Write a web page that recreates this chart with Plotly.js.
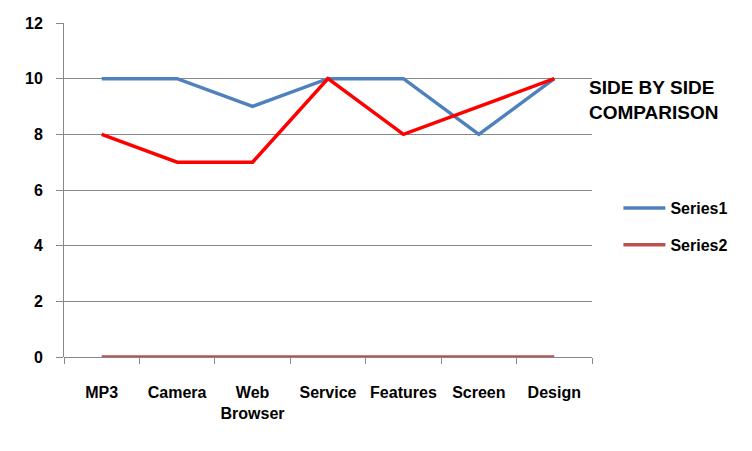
<!DOCTYPE html>
<html>
<head>
<meta charset="utf-8">
<script src="https://cdn.plot.ly/plotly-3.0.1.min.js"></script>
<style>
  html, body { margin: 0; padding: 0; background: #fff; }
  #chart { width: 752px; height: 451px; }
</style>
</head>
<body>
<div id="chart"></div>
<script>
// categories and values
const categories = ['MP3', 'Camera', 'Web<br>Browser', 'Service', 'Features', 'Screen', 'Design'];
const series1 = [10, 10, 9, 10, 10, 8, 10];
const series2 = [0, 0, 0, 0, 0, 0, 0];
const comparison = [8, 7, 7, 10, 8, 9, 10];
const yTicks = [0, 2, 4, 6, 8, 10, 12];

const fontFamily = 'Liberation Sans, Arial, sans-serif';

const traces = [
    {
        x: categories, y: series1,
        type: 'scatter', mode: 'lines',
        line: { color: '#4f81bd', width: 3.5 },
        name: 'Series1',
        legendgroup: 's1'
    },
    {
        x: categories, y: series2,
        type: 'scatter', mode: 'lines',
        line: { color: '#c0504d', width: 3.5 },
        name: 'Series2',
        legendgroup: 's2'
    },
    {
        x: categories, y: comparison,
        type: 'scatter', mode: 'lines',
        line: { color: '#ff0000', width: 3.5 },
        name: 'Comparison',
        showlegend: false
    }
];

const layout = {
    width: 752,
    height: 451,
    margin: { l: 64, r: 160, t: 23, b: 94, autoexpand: false },
    paper_bgcolor: '#fff',
    plot_bgcolor: '#fff',
    font: { family: fontFamily, size: 16, color: '#000' },
    showlegend: true,
    xaxis: {
        type: 'category',
        range: [-0.5, 6.5],
        tickson: 'boundaries',
        ticks: 'outside',
        ticklen: 6,
        tickcolor: '#888',
        tickangle: 0,
        showgrid: false,
        showline: false,
        zeroline: false,
        automargin: false,
        ticklabelstandoff: 24,
        tickfont: { family: fontFamily, size: 16, color: '#000', weight: 'bold' }
    },
    yaxis: {
        range: [0, 12],
        tickvals: yTicks,
        ticks: 'outside',
        ticklen: 7,
        tickcolor: '#888',
        showgrid: true,
        gridcolor: '#888',
        gridwidth: 1,
        showline: true,
        linecolor: '#888',
        linewidth: 1,
        zeroline: true,
        zerolinecolor: '#888',
        zerolinewidth: 1,
        automargin: false,
        ticklabelstandoff: 10,
        tickfont: { family: fontFamily, size: 16, color: '#000', weight: 'bold' }
    },
    legend: {
        x: 1.05, y: 0.497,
        xanchor: 'left', yanchor: 'top',
        traceorder: 'grouped',
        tracegroupgap: 13,
        itemwidth: 42,
        font: { family: fontFamily, size: 16, color: '#000', weight: 'bold' },
        bgcolor: 'rgba(0,0,0,0)'
    },
    annotations: [
        {
            text: 'SIDE BY SIDE<br>COMPARISON',
            xref: 'paper', yref: 'paper',
            x: 0.99, y: 0.843,
            xanchor: 'left', yanchor: 'top',
            align: 'left',
            showarrow: false,
            font: { family: fontFamily, size: 19, color: '#000', weight: 'bold' }
        }
    ]
};

Plotly.newPlot('chart', traces, layout, { displayModeBar: false, staticPlot: true });
</script>
</body>
</html>
